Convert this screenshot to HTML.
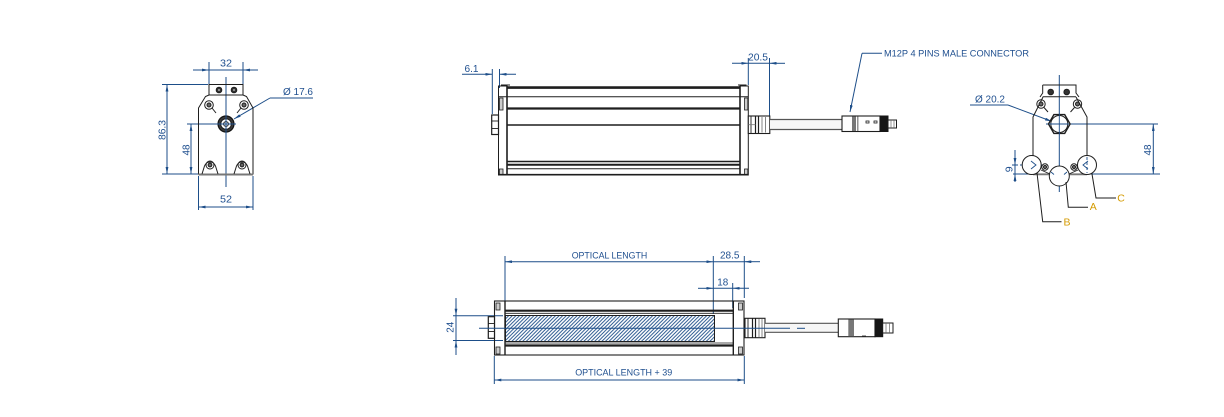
<!DOCTYPE html>
<html>
<head>
<meta charset="utf-8">
<style>
  html,body{margin:0;padding:0;background:#fff;}
  svg{display:block;}
  text{font-family:"Liberation Sans",sans-serif;}
</style>
</head>
<body>
<svg width="1224" height="417" viewBox="0 0 1224 417" xmlns="http://www.w3.org/2000/svg">
<defs>
  <marker id="ar" viewBox="0 0 10 4" refX="10" refY="2" markerWidth="7" markerHeight="2.8" markerUnits="userSpaceOnUse" orient="auto-start-reverse">
    <path d="M0,0 L10,2 L0,4 z" fill="#1d4e89"/>
  </marker>
  <pattern id="hatch" patternUnits="userSpaceOnUse" width="3.6" height="3.6">
    <path d="M-1,1 L1,-1 M0,3.6 L3.6,0 M2.6,4.6 L4.6,2.6" stroke="#1d4e89" stroke-width="0.9"/>
  </pattern>
</defs>
<rect width="1224" height="417" fill="#fff"/>

<!-- ================= LEFT VIEW ================= -->
<g stroke="#1d4e89" stroke-width="1" fill="none">
  <line x1="209" y1="62" x2="209" y2="84"/>
  <line x1="243" y1="62" x2="243" y2="84"/>
  <line x1="193" y1="70" x2="209" y2="70" marker-end="url(#ar)"/>
  <line x1="258" y1="70" x2="243" y2="70" marker-end="url(#ar)"/>
  <line x1="209" y1="70" x2="243" y2="70"/>
  <line x1="226" y1="77" x2="226" y2="187"/>
  <line x1="187" y1="124" x2="226" y2="124"/>
  <line x1="162" y1="84.5" x2="208" y2="84.5"/>
  <line x1="162" y1="174" x2="198" y2="174"/>
  <line x1="167" y1="84.5" x2="167" y2="174" marker-start="url(#ar)" marker-end="url(#ar)"/>
  <line x1="191" y1="124" x2="191" y2="174" marker-start="url(#ar)" marker-end="url(#ar)"/>
  <line x1="198.5" y1="176" x2="198.5" y2="210"/>
  <line x1="253" y1="176" x2="253" y2="210"/>
  <line x1="198.5" y1="207" x2="253" y2="207" marker-start="url(#ar)" marker-end="url(#ar)"/>
  <line x1="313" y1="98" x2="270" y2="98"/>
  <line x1="270" y1="98" x2="234" y2="119" marker-end="url(#ar)"/>
</g>
<g stroke="#1e1e1e" stroke-width="1" fill="none">
  <rect x="209" y="84.5" width="34" height="10.5"/>
  <path d="M209,95 L205.5,96.5 L198.5,108 L198.5,174 L253,174 L253,108 L246.5,96.5 L243,95"/>
  <line x1="198.5" y1="174.5" x2="253" y2="174.5" stroke="#777" stroke-width="2"/>
  <circle cx="209" cy="105" r="4.3"/>
  <circle cx="209" cy="105" r="2" fill="#666"/>
  <line x1="212" y1="108" x2="216" y2="113"/>
  <circle cx="244" cy="105" r="4.3"/>
  <circle cx="244" cy="105" r="2" fill="#666"/>
  <line x1="241" y1="108" x2="237" y2="113"/>
  <path d="M202,174 L204.5,166 A5.8,5.8 0 0 1 215.5,166 L218,174"/>
  <circle cx="210" cy="165" r="4" />
  <circle cx="210" cy="165" r="1.9" fill="#666"/>
  <path d="M234,174 L236.5,166 A5.8,5.8 0 0 1 247.5,166 L250,174"/>
  <circle cx="242" cy="165" r="4"/>
  <circle cx="242" cy="165" r="1.9" fill="#666"/>
  <circle cx="219" cy="90" r="2.8" fill="#333"/>
  <circle cx="234" cy="90" r="2.8" fill="#333"/>
  <circle cx="226" cy="124" r="8" fill="#3a3a3a" stroke="#111" stroke-width="1.2"/>
  <circle cx="226" cy="124" r="5.3" fill="#fff"/>
  <circle cx="226" cy="124" r="2.4"/>
</g>
<circle cx="219" cy="90" r="1" fill="#aaa"/>
<circle cx="234" cy="90" r="1" fill="#aaa"/>
<line x1="226" y1="114" x2="226" y2="134" stroke="#1d4e89" stroke-width="1"/>
<line x1="216" y1="124" x2="236" y2="124" stroke="#1d4e89" stroke-width="1"/>
<g fill="#1f4f8f" font-size="10.5" text-anchor="middle" dominant-baseline="central">
  <text x="226" y="63.5" textLength="12" lengthAdjust="spacingAndGlyphs">32</text>
  <text x="226" y="199.5" textLength="12" lengthAdjust="spacingAndGlyphs">52</text>
  <text transform="translate(162.5,130) rotate(-90)" textLength="20" lengthAdjust="spacingAndGlyphs">86.3</text>
  <text transform="translate(186.5,150) rotate(-90)" textLength="11" lengthAdjust="spacingAndGlyphs">48</text>
  <text x="298" y="92" textLength="30" lengthAdjust="spacingAndGlyphs">Ø 17.6</text>
</g>

<!-- ================= TOP MIDDLE VIEW ================= -->
<g stroke="#1d4e89" stroke-width="1" fill="none">
  <line x1="492.3" y1="69" x2="492.3" y2="114"/>
  <line x1="499.5" y1="69" x2="499.5" y2="88"/>
  <line x1="462" y1="74.3" x2="492.3" y2="74.3" marker-end="url(#ar)"/>
  <line x1="516" y1="74.3" x2="499.5" y2="74.3" marker-end="url(#ar)"/>
  <line x1="748.3" y1="58" x2="748.3" y2="85"/>
  <line x1="769.5" y1="58" x2="769.5" y2="118"/>
  <line x1="732" y1="63.3" x2="748.3" y2="63.3" marker-end="url(#ar)"/>
  <line x1="785" y1="63.3" x2="769.5" y2="63.3" marker-end="url(#ar)"/>
  <line x1="748.3" y1="63.3" x2="769.5" y2="63.3"/>
  <line x1="882" y1="53.3" x2="862" y2="53.3"/>
  <line x1="862" y1="53.3" x2="850" y2="112" marker-end="url(#ar)"/>
</g>
<g stroke="#1e1e1e" fill="none">
  <rect x="498.5" y="86" width="8.5" height="89" stroke-width="1"/>
  <line x1="507" y1="86" x2="507" y2="175" stroke-width="1.6"/>
  <path d="M501.5,86 L501.5,85 L510,85" stroke-width="1"/>
  <rect x="499.5" y="98" width="3.5" height="12" fill="#ccc" stroke-width="0.8"/>
  <rect x="499.5" y="169" width="3.5" height="6" fill="#ccc" stroke-width="0.8"/>
  <rect x="740" y="86" width="8.3" height="89" stroke-width="1"/>
  <line x1="740" y1="86" x2="740" y2="175" stroke-width="1.6"/>
  <path d="M746,86 L746,85 L738,85" stroke-width="1"/>
  <rect x="744.5" y="98" width="3.3" height="12" fill="#ccc" stroke-width="0.8"/>
  <rect x="744.5" y="169" width="3.3" height="6" fill="#ccc" stroke-width="0.8"/>
  <line x1="507" y1="87.6" x2="740" y2="87.6" stroke-width="2.6"/>
  <line x1="498.5" y1="96.7" x2="748.3" y2="96.7" stroke-width="1"/>
  <line x1="507" y1="108.5" x2="740" y2="108.5" stroke-width="2.2"/>
  <line x1="507" y1="125" x2="740" y2="125" stroke-width="1.6"/>
  <line x1="507" y1="161.5" x2="740" y2="161.5" stroke-width="1.4"/>
  <line x1="507" y1="164.7" x2="740" y2="164.7" stroke-width="2"/>
  <line x1="507" y1="168.7" x2="740" y2="168.7" stroke-width="1"/>
  <line x1="498.5" y1="174.7" x2="748.3" y2="174.7" stroke-width="1.6"/>
  <rect x="491.7" y="115" width="6.8" height="19.5" fill="#fff" stroke-width="1.2"/>
  <line x1="491.7" y1="121" x2="498.5" y2="121" stroke-width="0.9"/>
  <line x1="491.7" y1="128.5" x2="498.5" y2="128.5" stroke-width="0.9"/>
  <rect x="748.3" y="116" width="21.5" height="17.5" fill="#fff" stroke-width="1.1"/>
  <line x1="751" y1="116" x2="751" y2="133.5" stroke-width="0.9"/>
  <line x1="755.5" y1="116" x2="755.5" y2="133.5" stroke-width="1.2"/>
  <line x1="758.5" y1="116" x2="758.5" y2="133.5" stroke-width="1.2"/>
  <line x1="762" y1="117" x2="762" y2="132.5" stroke="#777" stroke-width="0.9"/>
  <line x1="765.5" y1="117" x2="765.5" y2="132.5" stroke="#777" stroke-width="0.9"/>
  <line x1="748.3" y1="124.7" x2="755.5" y2="124.7" stroke="#777" stroke-width="0.8"/>
  <rect x="770" y="119.5" width="72" height="10" fill="#f6f6f6" stroke="none"/>
  <line x1="770" y1="119.5" x2="842" y2="119.5" stroke="#555" stroke-width="1.2"/>
  <line x1="770" y1="129.5" x2="842" y2="129.5" stroke="#555" stroke-width="1.2"/>
  <rect x="842" y="116" width="38" height="15.5" fill="#fff" stroke-width="1.1"/>
  <rect x="852" y="116.5" width="4" height="14.5" fill="#777" stroke="none"/>
  <line x1="857.8" y1="116.5" x2="857.8" y2="131" stroke="#777" stroke-width="1.2"/>
  <rect x="866" y="121" width="3" height="2" stroke-width="0.8"/>
  <rect x="874" y="121" width="3" height="2" stroke-width="0.8"/>
  <rect x="880" y="116" width="8" height="15.5" fill="#161616" stroke="#161616" stroke-width="1"/>
  <rect x="888" y="120" width="8.5" height="8" fill="#fff" stroke-width="1"/>
  <line x1="891" y1="120" x2="891" y2="128" stroke="#666" stroke-width="0.7"/>
  <line x1="894" y1="120" x2="894" y2="128" stroke="#666" stroke-width="0.7"/>
</g>
<g fill="#1f4f8f" text-anchor="middle" dominant-baseline="central">
  <text x="471.5" y="69" font-size="10.5" textLength="14" lengthAdjust="spacingAndGlyphs">6.1</text>
  <text x="758" y="57.5" font-size="10.5" textLength="20" lengthAdjust="spacingAndGlyphs">20.5</text>
  <text x="956.5" y="54" font-size="9.5" textLength="145" lengthAdjust="spacingAndGlyphs">M12P 4 PINS MALE CONNECTOR</text>
</g>

<!-- ================= RIGHT VIEW ================= -->
<g stroke="#1d4e89" stroke-width="1" fill="none">
  <line x1="1059.3" y1="75" x2="1059.3" y2="192"/>
  <line x1="1046" y1="124" x2="1158" y2="124"/>
  <line x1="1013" y1="174" x2="1160" y2="174"/>
  <line x1="1153.3" y1="124" x2="1153.3" y2="174" marker-start="url(#ar)" marker-end="url(#ar)"/>
  <line x1="1012" y1="165" x2="1046" y2="165" stroke-dasharray="6,2,2,2"/>
  <line x1="1015" y1="150" x2="1015" y2="165" marker-end="url(#ar)"/>
  <line x1="1015" y1="182" x2="1015" y2="174" marker-end="url(#ar)"/>
  <line x1="1015" y1="165" x2="1015" y2="174"/>
  <line x1="970" y1="105" x2="1008" y2="105"/>
  <line x1="1008" y1="105" x2="1052" y2="121.5" marker-end="url(#ar)"/>
</g>
<g stroke="#1e1e1e" stroke-width="1" fill="none">
  <path d="M1042.7,85 L1076,85 L1076,93 L1079,97 M1042.7,85 L1042.7,93 L1040,97"/>
  <line x1="1042.7" y1="96.7" x2="1076" y2="96.7"/>
  <circle cx="1050.7" cy="92" r="2.8" fill="#333"/>
  <circle cx="1066.7" cy="92" r="2.8" fill="#333"/>
  <path d="M1043,97 L1033,117 L1033,174 L1087,174 L1087,117 L1076,97"/>
  <circle cx="1041" cy="104" r="4.2"/>
  <circle cx="1041" cy="104" r="2" fill="#666"/>
  <line x1="1044" y1="107.5" x2="1048" y2="112"/>
  <circle cx="1077.5" cy="104" r="4.2"/>
  <circle cx="1077.5" cy="104" r="2" fill="#666"/>
  <line x1="1074.5" y1="107.5" x2="1070.5" y2="112"/>
  <polygon points="1048.5,124 1053.9,114.6 1064.7,114.6 1070.1,124 1064.7,133.4 1053.9,133.4" stroke-width="1.4" fill="#fff"/>
  <circle cx="1059.3" cy="124" r="8.5"/>
  <line x1="1033" y1="174.3" x2="1087" y2="174.3" stroke="#777" stroke-width="1.8"/>
  <circle cx="1031.7" cy="165" r="9.5" fill="#fff"/>
  <circle cx="1087" cy="165" r="9.5" fill="#fff"/>
  <circle cx="1059.3" cy="176" r="10" fill="#fff"/>
  <circle cx="1045" cy="167" r="3.2" fill="#fff"/>
  <circle cx="1045" cy="167" r="1.5" fill="#777"/>
  <circle cx="1074" cy="167" r="3.2" fill="#fff"/>
  <circle cx="1074" cy="167" r="1.5" fill="#777"/>
  <path d="M1041,170 L1050,174 M1078,170 L1069,174" stroke-width="0.8"/>
  <polyline points="1037,173 1042.7,221.7 1061.5,221.7"/>
  <polyline points="1066,182 1068.3,207.3 1088,207.3"/>
  <polyline points="1092,174 1096,198 1116,198"/>
</g>
<g stroke="#1d4e89" stroke-width="0.9" fill="none">
  <line x1="1059.3" y1="114" x2="1059.3" y2="134"/>
  <line x1="1049" y1="124" x2="1069" y2="124"/>
  <path d="M1031,161 L1036,165 L1031,169 M1088,161 L1083,165 L1088,169"/>
  <path d="M1087,157 L1087,173" stroke-dasharray="3,2"/>
  <path d="M1051,172 L1054,174.5 M1067,172 L1064,174.5"/>
</g>
<g fill="#1f4f8f" text-anchor="middle" dominant-baseline="central">
  <text x="990" y="99.3" font-size="10.5" textLength="30" lengthAdjust="spacingAndGlyphs">Ø 20.2</text>
  <text transform="translate(1148,150) rotate(-90)" font-size="10.5" textLength="11" lengthAdjust="spacingAndGlyphs">48</text>
  <text transform="translate(1009.3,169.3) rotate(-90)" font-size="10.5">9</text>
</g>
<g fill="#d49a00" font-size="10.5" text-anchor="middle" dominant-baseline="central">
  <text x="1067" y="222.5">B</text>
  <text x="1093.3" y="207">A</text>
  <text x="1121" y="198.3">C</text>
</g>

<!-- ================= BOTTOM VIEW ================= -->
<g stroke="#1d4e89" stroke-width="1" fill="none">
  <line x1="505" y1="256" x2="505" y2="314"/>
  <line x1="713.3" y1="256" x2="713.3" y2="314"/>
  <line x1="744.3" y1="256" x2="744.3" y2="298"/>
  <line x1="505" y1="261.7" x2="713.3" y2="261.7" marker-start="url(#ar)" marker-end="url(#ar)"/>
  <line x1="760" y1="261.7" x2="744.3" y2="261.7" marker-end="url(#ar)"/>
  <line x1="713.3" y1="261.7" x2="744.3" y2="261.7"/>
  <line x1="732.7" y1="283" x2="732.7" y2="308"/>
  <line x1="698" y1="288.3" x2="713.3" y2="288.3" marker-end="url(#ar)"/>
  <line x1="749" y1="288.3" x2="732.7" y2="288.3" marker-end="url(#ar)"/>
  <line x1="713.3" y1="288.3" x2="732.7" y2="288.3"/>
  <line x1="453" y1="315.7" x2="503" y2="315.7"/>
  <line x1="453" y1="340.5" x2="503" y2="340.5"/>
  <line x1="456" y1="298" x2="456" y2="315.7" marker-end="url(#ar)"/>
  <line x1="456" y1="355" x2="456" y2="340.5" marker-end="url(#ar)"/>
  <line x1="456" y1="315.7" x2="456" y2="340.5"/>
  <line x1="494.3" y1="356" x2="494.3" y2="384"/>
  <line x1="744.3" y1="356" x2="744.3" y2="384"/>
  <line x1="494.3" y1="380" x2="744.3" y2="380" marker-start="url(#ar)" marker-end="url(#ar)"/>
</g>
<g stroke="#1e1e1e" fill="none">
  <rect x="494.5" y="301" width="249.5" height="54" stroke-width="1.1"/>
  <line x1="505" y1="301" x2="505" y2="355" stroke-width="1.4"/>
  <line x1="733.3" y1="301" x2="733.3" y2="355" stroke-width="1.4"/>
  <rect x="496" y="303" width="4" height="7" fill="#ccc" stroke-width="0.8"/>
  <rect x="496" y="347" width="4" height="7" fill="#ccc" stroke-width="0.8"/>
  <rect x="738.5" y="303" width="4" height="7" fill="#ccc" stroke-width="0.8"/>
  <rect x="738.5" y="347" width="4" height="7" fill="#ccc" stroke-width="0.8"/>
  <line x1="505" y1="310.7" x2="733.3" y2="310.7" stroke-width="2.2"/>
  <line x1="505" y1="313.3" x2="733.3" y2="313.3" stroke-width="0.8"/>
  <line x1="505" y1="343" x2="733.3" y2="343" stroke-width="0.8"/>
  <line x1="505" y1="345.5" x2="733.3" y2="345.5" stroke-width="2.2"/>
  <rect x="505.5" y="315.5" width="209" height="26" fill="url(#hatch)" stroke-width="1"/>
  <rect x="488.3" y="316.7" width="6.2" height="21.6" fill="#fff" stroke-width="1.2"/>
  <line x1="488.3" y1="323.5" x2="494.5" y2="323.5" stroke-width="0.9"/>
  <line x1="488.3" y1="331.5" x2="494.5" y2="331.5" stroke-width="0.9"/>
  <rect x="745" y="318.3" width="20" height="19.4" fill="#fff" stroke-width="1.1"/>
  <line x1="748" y1="318.3" x2="748" y2="337.7" stroke-width="0.9"/>
  <line x1="752.5" y1="318.3" x2="752.5" y2="337.7" stroke-width="1.2"/>
  <line x1="755.5" y1="318.3" x2="755.5" y2="337.7" stroke-width="1.2"/>
  <line x1="759" y1="319" x2="759" y2="337" stroke="#777" stroke-width="0.9"/>
  <line x1="762" y1="319" x2="762" y2="337" stroke="#777" stroke-width="0.9"/>
  <rect x="765" y="323.3" width="73.3" height="9" fill="#f6f6f6" stroke="none"/>
  <line x1="765" y1="323.3" x2="838.3" y2="323.3" stroke="#555" stroke-width="1.2"/>
  <line x1="765" y1="332.3" x2="838.3" y2="332.3" stroke="#555" stroke-width="1.2"/>
  <rect x="838.3" y="319" width="36.7" height="17.7" fill="#fff" stroke-width="1.1"/>
  <rect x="848.3" y="319.5" width="5.7" height="16.7" fill="#777" stroke="none"/>
  <line x1="862" y1="336" x2="866" y2="336" stroke-width="0.8"/>
  <rect x="875" y="319" width="7.7" height="17.7" fill="#161616" stroke="#161616" stroke-width="1"/>
  <rect x="882.7" y="323" width="10.3" height="10" fill="#fff" stroke-width="1"/>
  <line x1="886" y1="323" x2="886" y2="333" stroke="#666" stroke-width="0.7"/>
  <line x1="889.5" y1="323" x2="889.5" y2="333" stroke="#666" stroke-width="0.7"/>
</g>
<g stroke="#1d4e89" stroke-width="1" fill="none">
  <line x1="479" y1="328.3" x2="790" y2="328.3"/>
  <line x1="797" y1="328.3" x2="805" y2="328.3"/>
</g>
<g fill="#1f4f8f" text-anchor="middle" dominant-baseline="central">
  <text x="609.5" y="255.7" font-size="9" textLength="75.6" lengthAdjust="spacingAndGlyphs">OPTICAL LENGTH</text>
  <text x="729.7" y="255.7" font-size="10.5" textLength="19.5" lengthAdjust="spacingAndGlyphs">28.5</text>
  <text x="722.8" y="282.3" font-size="10.5" textLength="11" lengthAdjust="spacingAndGlyphs">18</text>
  <text x="623.7" y="372.7" font-size="9" textLength="97" lengthAdjust="spacingAndGlyphs">OPTICAL LENGTH + 39</text>
  <text transform="translate(450.7,327.3) rotate(-90)" font-size="10.5" textLength="11" lengthAdjust="spacingAndGlyphs">24</text>
</g>
</svg>
</body>
</html>
